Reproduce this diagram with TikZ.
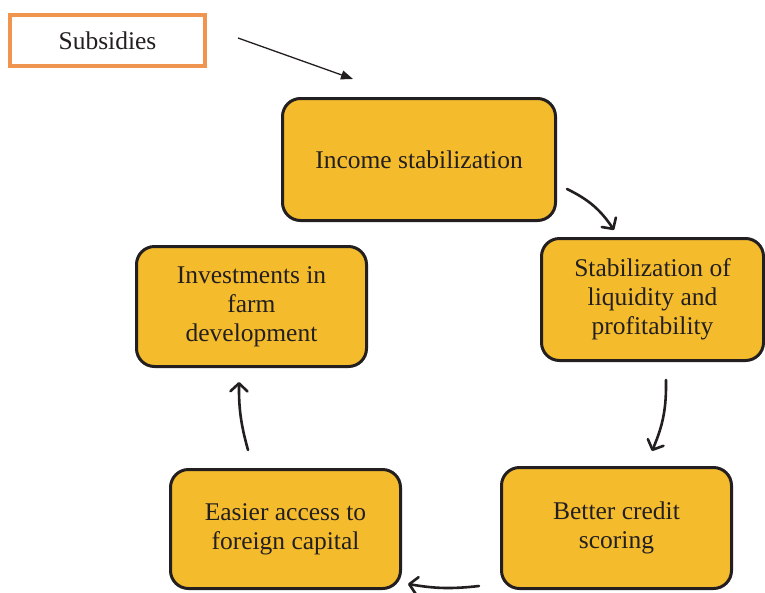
\documentclass[tikz,border=0pt]{standalone}
\usepackage{fontspec}
\setmainfont{Liberation Serif}
\usetikzlibrary{arrows.meta}
\definecolor{boxfill}{HTML}{F4BC2C}
\definecolor{ink}{HTML}{231F20}
\definecolor{orangeline}{HTML}{F0954F}
\begin{document}
\begin{tikzpicture}[x=1pt,y=-1pt,
  lbl/.style={font=\fontsize{25.5}{29}\selectfont, text=ink, align=center, inner sep=0pt},
  cyclebox/.style={lbl, shape=rectangle, draw=ink, line width=3pt, fill=boxfill, rounded corners=18pt},
  inputbox/.style={lbl, shape=rectangle, draw=orangeline, line width=4.3pt, fill=white},
  flowarrow/.style={draw=ink, line width=2.6pt, line cap=round, -{Straight Barb[length=8pt,width=17pt,line cap=round,line join=round]}},
  inarrow/.style={draw=ink, line width=1.3pt, -{Triangle[length=12pt,width=9pt]}}
]
\useasboundingbox (0,0) rectangle (765,592);
\fill[white] (0,0) rectangle (765,592);

\node[inputbox, minimum width=195pt, minimum height=51pt] (sub) at (107.5,40.5) {Subsidies};

\node[cyclebox, minimum width=273pt, minimum height=122pt] (inc) at (419,159.5) {Income stabilization};
\node[cyclebox, minimum width=222pt, minimum height=122pt] (liq) at (652.5,299.5) {Stabilization of\\liquidity and\\profitability};
\node[cyclebox, minimum width=230pt, minimum height=121pt] (cre) at (616.5,528) {Better credit\\scoring};
\node[cyclebox, minimum width=230pt, minimum height=119pt] (acc) at (285.5,529) {Easier access to\\foreign capital};
\node[cyclebox, minimum width=230pt, minimum height=120pt] (inv) at (251.5,306.5) {Investments in\\farm\\development};

\coordinate (s0) at (238,38);
\coordinate (s1) at (353,79);
\coordinate (a1s) at (567,189);
\coordinate (a1e) at (614,230);
\coordinate (a2s) at (666,380);
\coordinate (a2e) at (652,451);
\coordinate (a3s) at (479,586);
\coordinate (a3e) at (408,584);
\coordinate (a4s) at (248,450);
\coordinate (a4e) at (239,382);

\draw[inarrow] (s0) -- (s1);
\draw[flowarrow] (a1s) to[bend left=15] (a1e);
\draw[flowarrow] (a2s) to[bend left=12] (a2e);
\draw[flowarrow] (a3s) to[bend left=8] (a3e);
\draw[flowarrow] (a4s) to[bend left=8] (a4e);
\end{tikzpicture}
\end{document}
